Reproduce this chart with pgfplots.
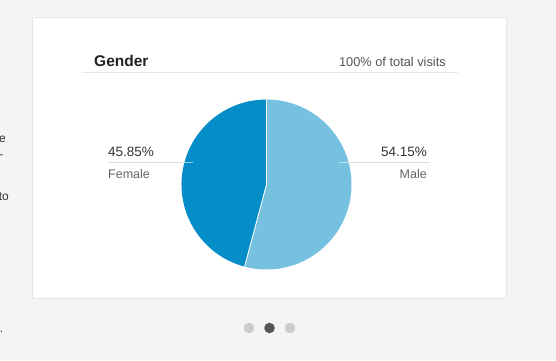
\documentclass[border=0pt]{standalone}
\usepackage{pgfplots}
\usepackage{pgfplotstable}
\usepackage{fontspec}
\setmainfont{Liberation Sans}
\pgfplotsset{compat=1.18}
\definecolor{bgc}{HTML}{F4F4F4}
\definecolor{cardborder}{HTML}{E6E6E6}
\definecolor{malec}{HTML}{76C0E0}
\definecolor{femalec}{HTML}{058DC7}
\definecolor{titlec}{HTML}{222222}
\definecolor{subc}{HTML}{555555}
\definecolor{pctc}{HTML}{333333}
\definecolor{labc}{HTML}{666666}
\definecolor{linec}{HTML}{DDDDDD}
\definecolor{dotlight}{HTML}{CCCCCC}
\definecolor{dotdark}{HTML}{555555}

\pgfplotstableread{
label value
Male 54.15
Female 45.85
}\gendertable

\begin{document}
\begin{tikzpicture}
\pgfplotstablegetelem{0}{value}\of\gendertable
\pgfmathsetmacro{\male}{\pgfplotsretval}
\pgfmathsetmacro{\mend}{90-3.6*\male}
\begin{axis}[
  at={(0,0)}, anchor=south west,
  scale only axis, width=556pt, height=360pt,
  xmin=0, xmax=556, ymin=0, ymax=360, y dir=reverse,
  hide axis, clip=false]
% background and card
\fill[bgc] (axis cs:0,0) rectangle (axis cs:556,360);
\filldraw[fill=white, draw=cardborder, line width=0.8pt] (axis cs:32.5,17) rectangle (axis cs:506,298);
% header
\node[anchor=base west, inner sep=0, text=titlec, font=\fontsize{15.5}{18}\selectfont\bfseries] at (axis cs:94,66.5) {Gender};
\node[anchor=base east, inner sep=0, text=subc, font=\fontsize{12.8}{15}\selectfont] at (axis cs:446,66.5) {100\% of total visits};
\draw[cardborder, line width=1pt] (axis cs:82,72) -- (axis cs:458,72);
% pie slices
\fill[malec] (axis cs:266.5,184.5) -- ++(90:85pt) arc[start angle=90, end angle=\mend, radius=85pt] -- cycle;
\fill[femalec] (axis cs:266.5,184.5) -- ++(\mend:85pt) arc[start angle=\mend, end angle=-270, radius=85pt] -- cycle;
\draw[white, line width=0.9pt] (axis cs:266.5,184.5) -- ++(90:85pt);
\draw[white, line width=0.9pt] (axis cs:266.5,184.5) -- ++(\mend:85pt);
% label leader lines
\draw[linec, line width=0.8pt] (axis cs:108,162) -- (axis cs:184.5,162);
\draw[white, opacity=0.55, line width=0.8pt] (axis cs:184.5,162) -- (axis cs:193,162);
\draw[white, opacity=0.55, line width=0.8pt] (axis cs:339,162) -- (axis cs:348.5,162);
\draw[linec, line width=0.8pt] (axis cs:348.5,162) -- (axis cs:430,162);
% labels
\node[anchor=base west, inner sep=0, text=pctc, font=\fontsize{13.5}{16}\selectfont] at (axis cs:108,156) {45.85\%};
\node[anchor=base west, inner sep=0, text=labc, font=\fontsize{12.5}{15}\selectfont] at (axis cs:108,178) {Female};
\node[anchor=base east, inner sep=0, text=pctc, font=\fontsize{13.5}{16}\selectfont] at (axis cs:427,156) {54.15\%};
\node[anchor=base east, inner sep=0, text=labc, font=\fontsize{12.5}{15}\selectfont] at (axis cs:427,178) {Male};
% pager dots
\fill[dotlight] (axis cs:249,328) circle[radius=5.3pt];
\fill[dotdark] (axis cs:269.5,328) circle[radius=5.3pt];
\fill[dotlight] (axis cs:290,328) circle[radius=5.3pt];
% cut-off text of neighbouring column
\node[anchor=base east, inner sep=0, text=pctc, font=\fontsize{12}{14}\selectfont] at (axis cs:6,142) {e};
\node[anchor=base east, inner sep=0, text=pctc, font=\fontsize{12}{14}\selectfont] at (axis cs:3.5,158) {-};
\node[anchor=base east, inner sep=0, text=pctc, font=\fontsize{12}{14}\selectfont] at (axis cs:9,200) {to};
\node[anchor=base east, inner sep=0, text=pctc, font=\fontsize{12}{14}\selectfont] at (axis cs:3.5,332) {.};
\end{axis}
\pgfresetboundingbox
\useasboundingbox (0,0) rectangle (556pt,360pt);
\end{tikzpicture}
\end{document}
